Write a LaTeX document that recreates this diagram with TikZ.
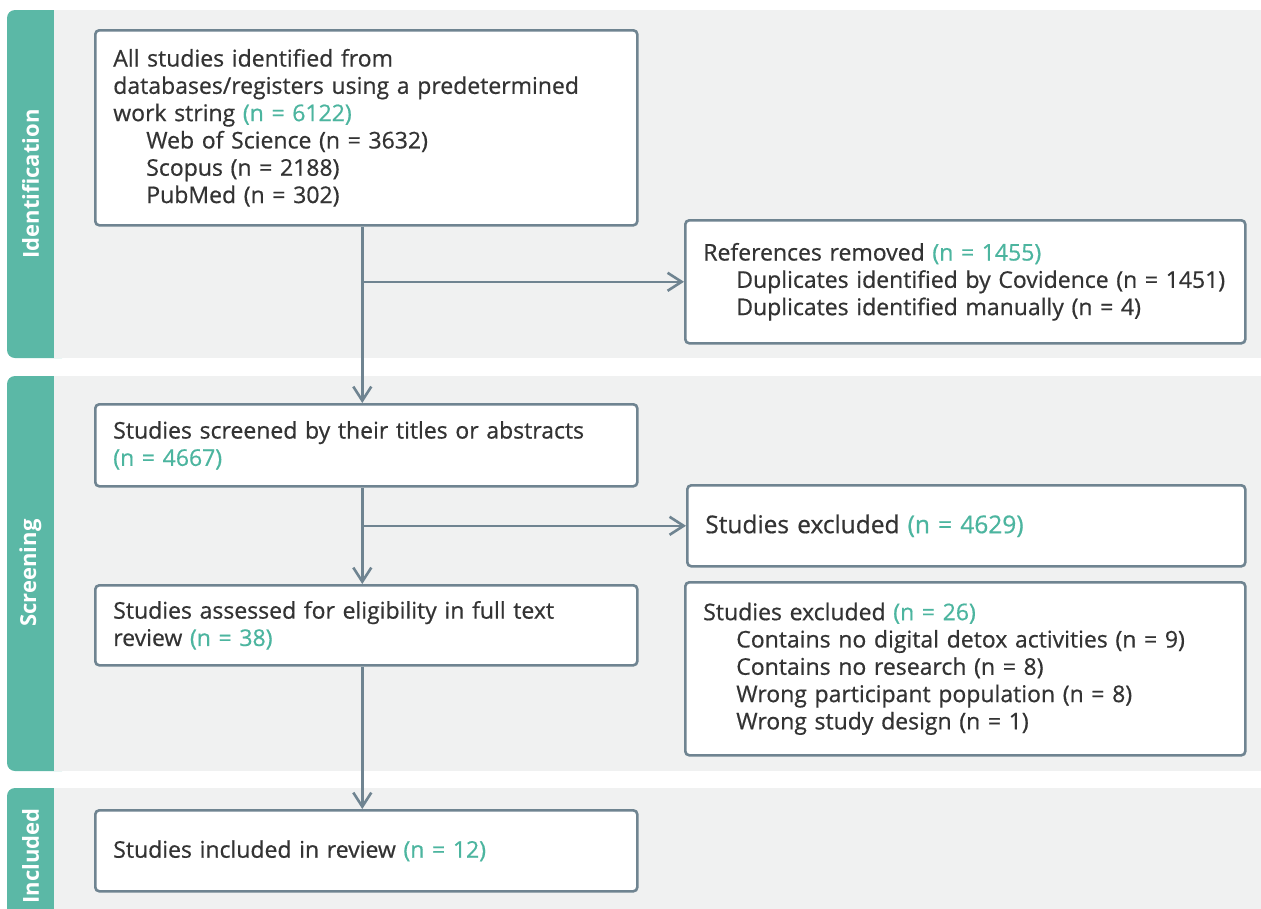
\documentclass[tikz,border=0pt]{standalone}
\usepackage{fontspec}
\setmainfont{Open Sans}
\newfontfamily\boxfont[RawFeature={embolden=0.6}]{Open Sans}
\usetikzlibrary{arrows.meta}

\definecolor{prismateal}{HTML}{5BB8A6}
\definecolor{counttext}{HTML}{4CB59F}
\definecolor{panelgray}{HTML}{F0F1F1}
\definecolor{edgegray}{HTML}{6F8491}
\definecolor{ink}{HTML}{333333}

\newcommand{\nval}[1]{\textcolor{counttext}{#1}}
\newcommand{\indt}{\hspace*{33pt}}

\tikzset{
  box/.style={draw=edgegray, line width=2.6pt, fill=white, rounded corners=4pt,
    anchor=north west, inner xsep=18pt, align=left, text=ink,
    font={\boxfont\fontsize{23}{27.3}\selectfont}},
  flow/.style={draw=edgegray, line width=2.6pt,
    -{Straight Barb[length=14pt,width=18pt]}},
  phase/.style={rotate=90, text=white, font={\fontsize{22}{24}\selectfont\bfseries}}
}

\begin{document}
\begin{tikzpicture}[x=1pt,y=-1pt]
        \useasboundingbox (0,0) rectangle (1261,908);
        % phase panels
        \fill[prismateal,rounded corners=8pt] (7,10) rectangle (70,358);
        \fill[panelgray] (54,10) rectangle (1261,358);
        \fill[prismateal,rounded corners=8pt] (7,376) rectangle (70,771);
        \fill[panelgray] (54,376) rectangle (1261,771);
        \fill[prismateal,rounded corners=8pt] (7,788) rectangle (70,930);
        \fill[panelgray] (54,788) rectangle (1261,930);
        \node[phase] (pid) at (30.5,184) {Identification};
        \node[phase] (pscr) at (30.5,573) {Screening};
        \node[phase] (pinc) at (30.5,856) {Included};

        % boxes
        \node[box,text width=506pt,minimum height=195pt] (ident) at (94,29)
            {All studies identified from\\ databases/registers using a predetermined\\ work string \nval{(n = 6122)}\\
             \indt Web of Science (n = 3632)\\ \indt Scopus (n = 2188)\\ \indt PubMed (n = 302)};
        \node[box,text width=524pt,minimum height=123pt] (removed) at (684,219)
            {References removed \nval{(n = 1455)}\\
             \indt Duplicates identified by Covidence (n = 1451)\\ \indt Duplicates identified manually (n = 4)};
        \node[box,text width=506pt,minimum height=82pt] (screened) at (94,403)
            {Studies screened by their titles or abstracts\\ \nval{(n = 4667)}};
        \node[box,text width=522pt,minimum height=81pt,font={\boxfont\fontsize{24.5}{28}\selectfont}] (excl1) at (686,484)
            {Studies excluded \nval{(n = 4629)}};
        \node[box,text width=506pt,minimum height=80pt] (assessed) at (94,584)
            {Studies assessed for eligibility in full text\\ review \nval{(n = 38)}};
        \node[box,text width=524pt,minimum height=173pt] (excl2) at (684,581)
            {Studies excluded \nval{(n = 26)}\\
             \indt Contains no digital detox activities (n = 9)\\ \indt Contains no research (n = 8)\\
             \indt Wrong participant population (n = 8)\\ \indt Wrong study design (n = 1)};
        \node[box,text width=506pt,minimum height=81pt] (incl) at (94,809)
            {Studies included in review \nval{(n = 12)}};

        % connectors
        \draw[flow] ([xshift=-4pt]ident.south) -- ([xshift=-4pt]screened.north);
        \draw[flow] ([xshift=-4pt]ident.south |- removed.west) -- (removed.west);
        \draw[flow] ([xshift=-4pt]screened.south) -- ([xshift=-4pt]assessed.north);
        \draw[flow] ([xshift=-4pt]screened.south |- excl1.west) -- (excl1.west);
        \draw[flow] ([xshift=-4pt]assessed.south) -- ([xshift=-4pt]incl.north);
    \end{tikzpicture}
\end{document}
